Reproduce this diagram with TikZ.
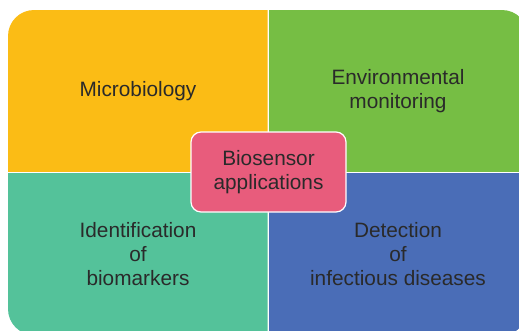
\documentclass[tikz,border=0pt]{standalone}
\usepackage{fontspec}
\setmainfont{Liberation Sans}
\definecolor{quadyellow}{HTML}{FBBC15}
\definecolor{quadgreen}{HTML}{76BE44}
\definecolor{quadteal}{HTML}{54C29A}
\definecolor{quadblue}{HTML}{4A6DB7}
\definecolor{hubpink}{HTML}{E85C7C}
\definecolor{inktext}{HTML}{2A2A2A}
\tikzset{
  label text/.style={text=inktext, align=center, inner sep=0pt,
    font=\fontsize{20.8}{24}\selectfont},
  hub/.style={label text, rectangle, rounded corners=10pt, fill=hubpink,
    draw=white, line width=1.2pt, minimum width=155pt, minimum height=80pt}
}
\begin{document}
\begin{tikzpicture}[x=1pt, y=-1pt]
  \useasboundingbox (0,0) rectangle (519,330);
  \clip (0,0) rectangle (519,330);
  % four quadrants cut from one rounded panel, separated by thin white gaps
  \foreach \col/\xa/\ya/\xb/\yb in {
      quadyellow/0/0/267.5/171.5,
      quadgreen/269/0/540/171.5,
      quadteal/0/173.2/267.5/340,
      quadblue/269/173.2/540/340} {
    \begin{scope}
      \clip (\xa,\ya) rectangle (\xb,\yb);
      \fill[\col, rounded corners=26pt] (8,10) rectangle (528,335);
    \end{scope}
  }
  \node[label text] (micro) at (138,91.5) {Microbiology};
  \node[label text] (env) at (398,91.5) {Environmental\\monitoring};
  \node[label text] (ident) at (138,254.5) {Identification\\of\\biomarkers};
  \node[label text] (detect) at (398,254.5) {Detection\\of\\infectious diseases};
  \node[hub] (center) at (268.5,172) {Biosensor\\applications};
\end{tikzpicture}
\end{document}
